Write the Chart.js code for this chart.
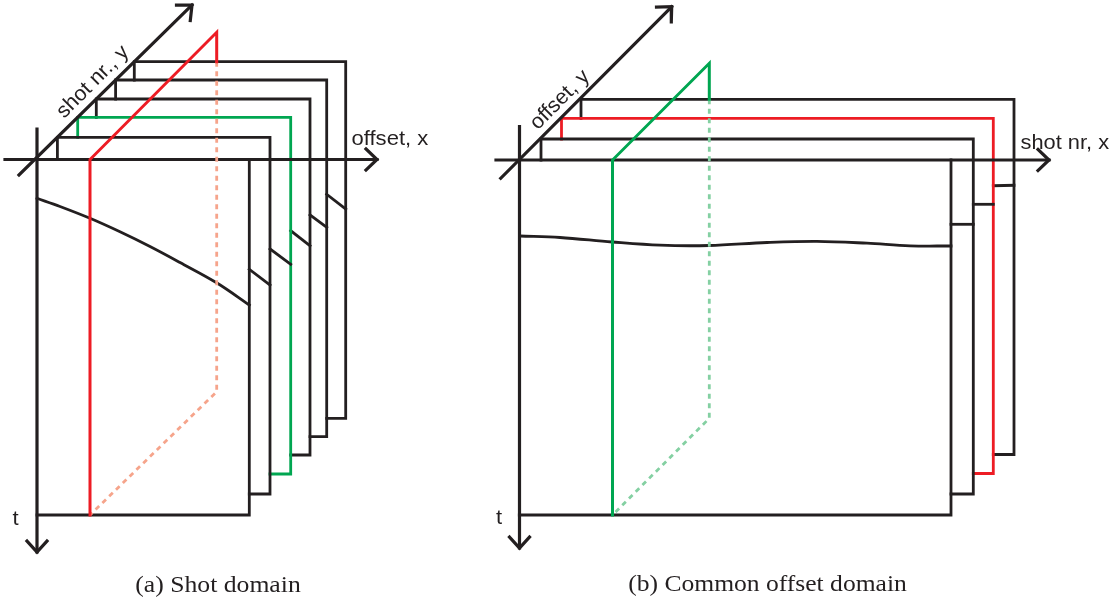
<!DOCTYPE html>
<html>
<head>
<meta charset="utf-8">
<script src="https://cdn.jsdelivr.net/npm/chart.js@4.4.1/dist/chart.umd.min.js"></script>
<style>
  html, body { margin: 0; padding: 0; background: #ffffff; }
  #wrap { position: relative; width: 1119px; height: 601px; }
  canvas { display: block; }
</style>
</head>
<body>
<div id="wrap"><canvas id="c" width="1119" height="601"></canvas></div>
<script>
// ---------- Data (page-unit coordinates: x right, t/y down) ----------

// Panel (a) Shot domain: stacked shot gathers (layer 0 = front)
const aLayerLeft   = [37, 57.4, 77.7, 96.3, 115.6, 134.3];
const aLayerTop    = [159.5, 137.3, 117.3, 99, 80, 61.7];
const aLayerRight  = [249.3, 270, 290.7, 310, 326.7, 345.7];
const aLayerBottom = [515, 494, 474, 455, 436.7, 418.3];
const aHighlightLayer = 2;              // green gather
// reflection event on the front gather
const aEventX = [37, 60, 90, 120, 150, 180, 217, 249.3];
const aEventT = [198.3, 206.5, 218.3, 231.8, 246.5, 262.5, 283, 305];
// event stubs visible on the gathers behind (start at previous right edge, end at own right edge)
const aBackEventStart = [null, 269.3, 249, 230.7, 215, 194.3];
const aBackEventEnd   = [null, 285, 264.3, 245.7, 227.3, 209];
// common-offset slicing plane (red)
const aPlaneX = [90, 216.7];            // front x, back x
const aPlaneTop = [159.5, 32.3];        // front top, back top
const aPlaneBottom = [515, 391.7];      // front bottom, back bottom

// Panel (b) Common offset domain: stacked common-offset gathers
const bLayerLeft   = [519.3, 541, 561.5, 581];
const bLayerTop    = [160, 139, 118.3, 99.3];
const bLayerRight  = [951, 973.3, 993.3, 1014];
const bLayerBottom = [515, 494, 473.5, 454.5];
const bHighlightLayer = 2;              // red gather
const bEventX = [520, 560, 612, 660, 709, 767, 817, 867, 910, 951];
const bEventT = [236, 237.5, 242, 245.2, 245.5, 242.5, 241.3, 243.2, 245.8, 246];
const bBackEventStart = [null, 224.3, 204.3, 185.7];
const bBackEventEnd   = [null, 224.3, 204.3, 185.3];
// shot-gather slicing plane (green)
const bPlaneX = [612.5, 709.3];
const bPlaneTop = [160, 63.3];
const bPlaneBottom = [515, 418.3];

// Axes: [start, end] plus arrow wings around the tip
const aAxisX = [[5, 159.5], [377, 159.5]];
const aAxisXWings = [[366, 149], [377, 159.5], [366, 170]];
const aAxisT = [[37, 129], [37, 552]];
const aAxisTWings = [[27, 541], [37, 552], [47, 541]];
const aAxisY = [[19, 175], [192, 5]];
const aAxisYWings = [[176.5, 5.2], [192, 5], [190.3, 20.5]];

const bAxisX = [[496, 160], [1049, 160]];
const bAxisXWings = [[1038, 149.5], [1049, 160], [1038, 170.5]];
const bAxisT = [[519.5, 126.7], [519.5, 548]];
const bAxisTWings = [[509.5, 537], [519.5, 548], [529.5, 537]];
const bAxisY = [[500.7, 178.3], [671.7, 6.7]];
const bAxisYWings = [[656.5, 7], [671.7, 6.7], [671.3, 22]];

// Text labels
const labelTexts = {
  aY: 'shot nr., y', aX: 'offset, x', aT: 't', aCap: '(a) Shot domain',
  bY: 'offset, y',  bX: 'shot nr, x', bT: 't', bCap: '(b) Common offset domain'
};

// ---------- Styles ----------
const INK = '#231f20';
const RED = '#ed1c24';
const GREEN = '#00a651';
const SALMON = '#f6a48b';
const LIGHTGREEN = '#84d0a2';

// ---------- Build datasets ----------
const drawList = [];   // in drawing order: first = bottom
function P(x, y) { return { x: x, y: y }; }
function poly(points, color, width, dash, smooth) {
  drawList.push({
    data: points.map(p => Array.isArray(p) ? P(p[0], p[1]) : p),
    showLine: true,
    borderColor: color,
    backgroundColor: color,
    borderWidth: width,
    borderDash: dash || [],
    pointRadius: 0,
    pointHoverRadius: 0,
    fill: false,
    tension: smooth ? 0.35 : 0,
    borderCapStyle: dash ? 'butt' : 'square',
    borderJoinStyle: 'miter'
  });
}

function buildStack(L, T, R, B, hi, hiColor, evX, evT, evS, evE) {
  const n = L.length;
  for (let k = n - 1; k >= 1; k--) {
    const c = (k === hi) ? hiColor : INK;
    poly([P(L[k], T[k - 1]), P(L[k], T[k]), P(R[k], T[k]), P(R[k], B[k]), P(R[k - 1], B[k])], c, 2.8);
    poly([P(R[k - 1], evS[k]), P(R[k], evE[k])], INK, 2.8);
  }
  // front gather: right and bottom edges (left/top are the axes)
  poly([P(R[0], T[0]), P(R[0], B[0]), P(L[0], B[0])], INK, 2.8);
  poly(evX.map((x, i) => P(x, evT[i])), INK, 2.8, null, true);
}

function buildAxes(ax, axW, at, atW, ay, ayW) {
  poly(ax, INK, 3.2); poly(axW, INK, 3.2);
  poly(at, INK, 3.2); poly(atW, INK, 3.2);
  poly(ay, INK, 3.2); poly(ayW, INK, 3.2);
}

function buildPlane(X, Tp, Bt, stackTop, solidColor, dashColor) {
  // dashed hidden part first
  poly([P(X[1], stackTop), P(X[1], Bt[1]), P(X[0], Bt[0])], dashColor, 2.8, [5, 4.5]);
  // solid visible part
  poly([P(X[0], Bt[0]), P(X[0], Tp[0]), P(X[1], Tp[1]), P(X[1], stackTop)], solidColor, 3);
}

buildStack(aLayerLeft, aLayerTop, aLayerRight, aLayerBottom, aHighlightLayer, GREEN,
           aEventX, aEventT, aBackEventStart, aBackEventEnd);
buildAxes(aAxisX, aAxisXWings, aAxisT, aAxisTWings, aAxisY, aAxisYWings);
buildPlane(aPlaneX, aPlaneTop, aPlaneBottom, aLayerTop[aLayerTop.length - 1], RED, SALMON);

buildStack(bLayerLeft, bLayerTop, bLayerRight, bLayerBottom, bHighlightLayer, RED,
           bEventX, bEventT, bBackEventStart, bBackEventEnd);
buildAxes(bAxisX, bAxisXWings, bAxisT, bAxisTWings, bAxisY, bAxisYWings);
buildPlane(bPlaneX, bPlaneTop, bPlaneBottom, bLayerTop[bLayerTop.length - 1], GREEN, LIGHTGREEN);

// Chart.js draws dataset 0 last (on top), so reverse our drawing list
const datasets = drawList.slice().reverse();

// ---------- Text plugin ----------
function txt(ctx, s, x, y, font, sx, rot, align, base) {
  ctx.save();
  ctx.translate(x, y);
  if (rot) ctx.rotate(rot);
  ctx.scale(sx, 1);
  ctx.font = font;
  ctx.fillStyle = INK;
  ctx.textAlign = align || 'left';
  ctx.textBaseline = base || 'alphabetic';
  ctx.fillText(s, 0, 0);
  ctx.restore();
}
const SANS = '"Liberation Sans", Arial, Helvetica, sans-serif';
const SERIF = '"Liberation Serif", "Times New Roman", serif';
const labelsPlugin = {
  id: 'labels',
  afterDatasetsDraw(chart) {
    const ctx = chart.ctx;
    const r45 = -Math.PI / 4;
    txt(ctx, labelTexts.aY, 93, 82, '21px ' + SANS, 1.02, r45, 'center', 'middle');
    txt(ctx, labelTexts.aX, 351.5, 144.5, '21px ' + SANS, 1.05);
    txt(ctx, labelTexts.aT, 12.5, 524.5, '21px ' + SANS, 1.05);
    txt(ctx, labelTexts.aCap, 218, 592, '24px ' + SERIF, 1.07, 0, 'center');
    txt(ctx, labelTexts.bY, 560, 100, '21px ' + SANS, 1.02, r45, 'center', 'middle');
    txt(ctx, labelTexts.bX, 1020.5, 148.5, '21px ' + SANS, 1.04);
    txt(ctx, labelTexts.bT, 496, 524, '21px ' + SANS, 1.05);
    txt(ctx, labelTexts.bCap, 767.5, 591, '24px ' + SERIF, 1.065, 0, 'center');
  }
};

new Chart(document.getElementById('c'), {
  type: 'scatter',
  data: { datasets: datasets },
  options: {
    responsive: false,
    maintainAspectRatio: false,
    animation: false,
    events: [],
    layout: { padding: 0 },
    plugins: { legend: { display: false }, tooltip: { enabled: false }, title: { display: false } },
    scales: {
      x: { type: 'linear', min: 0, max: 1119, display: false },
      y: { type: 'linear', min: 0, max: 601, reverse: true, display: false }
    }
  },
  plugins: [labelsPlugin]
});
</script>
</body>
</html>
